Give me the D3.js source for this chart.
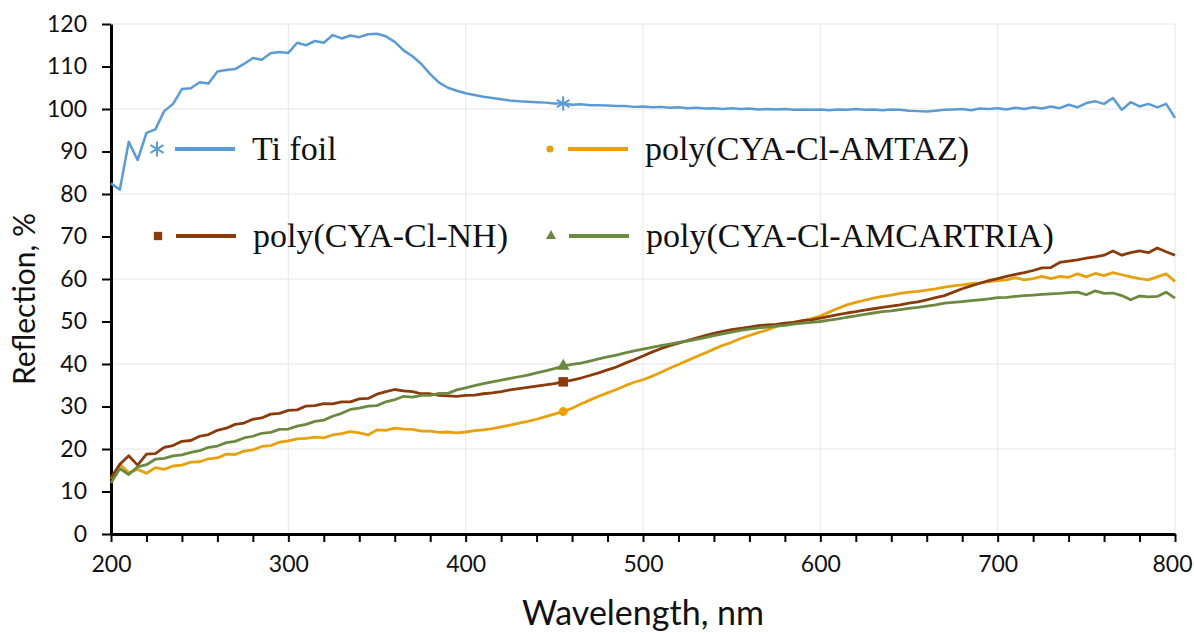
<!DOCTYPE html>
<html>
<head>
  <meta charset="utf-8">
  <script src="https://d3js.org/d3.v7.min.js"></script>
  <title>Reflection spectra</title>
  <style>
    body { margin: 0; background: #fff; }
    .axis text { font-family: Lato, "Open Sans", sans-serif; font-size: 23px; fill: #111; }
    .axis .domain { stroke: #000; stroke-width: 3px; }
    .axis line { stroke: #000; stroke-width: 2px; }
    .grid line { stroke: #e6e6e6; stroke-width: 1px; }
    .title { font-family: Lato, "Open Sans", sans-serif; fill: #111; }
    .legend text { font-family: "Liberation Serif", "Times New Roman", serif; font-size: 34px; fill: #111; }
  </style>
</head>
<body>
<svg width="1194" height="633"></svg>
<script>
// wavelength grid, nm
var wavelength = [200,205,210,215,220,225,230,235,240,245,250,255,260,265,270,275,280,285,290,295,
  300,305,310,315,320,325,330,335,340,345,350,355,360,365,370,375,380,385,390,395,
  400,405,410,415,420,425,430,435,440,445,450,455,460,465,470,475,480,485,490,495,
  500,505,510,515,520,525,530,535,540,545,550,555,560,565,570,575,580,585,590,595,
  600,605,610,615,620,625,630,635,640,645,650,655,660,665,670,675,680,685,690,695,
  700,705,710,715,720,725,730,735,740,745,750,755,760,765,770,775,780,785,790,795,800];

// reflection, %
var tiFoil = [82.5,81.0,92.3,88.0,94.4,95.2,99.5,101.2,104.7,104.9,106.3,106.0,108.8,109.2,109.4,110.6,112.0,111.6,113.1,113.4,
  113.2,115.6,115.0,116.0,115.6,117.4,116.6,117.3,116.9,117.6,117.7,117.1,115.8,113.8,112.4,110.6,108.2,106.2,105.0,104.3,
  103.7,103.3,102.9,102.6,102.3,102.0,101.8,101.7,101.6,101.5,101.3,101.3,101.0,101.1,100.9,100.9,100.8,100.7,100.7,100.5,
  100.6,100.4,100.5,100.3,100.4,100.2,100.3,100.1,100.2,100.0,100.2,100.0,100.1,99.9,100.0,99.9,100.0,99.8,99.9,99.8,
  99.9,99.7,99.9,99.8,100.0,99.8,99.9,99.7,99.9,99.8,99.6,99.5,99.4,99.6,99.8,99.9,100.0,99.7,100.1,100.0,
  100.2,99.9,100.3,100.0,100.4,100.1,100.6,100.2,101.0,100.4,101.4,101.8,101.2,102.6,99.8,101.6,100.6,101.2,100.4,101.2,97.9];

var amtaz = [13.0,16.4,14.4,15.2,14.3,15.6,15.2,16.0,16.2,16.9,17.0,17.7,17.9,18.8,18.7,19.5,19.8,20.6,20.8,21.6,
  21.9,22.4,22.5,22.8,22.6,23.3,23.6,24.1,23.8,23.3,24.5,24.4,24.9,24.7,24.6,24.2,24.2,23.9,24.0,23.8,
  24.0,24.3,24.5,24.8,25.2,25.6,26.1,26.5,27.0,27.6,28.2,28.8,29.6,30.6,31.5,32.4,33.2,34.0,34.9,35.7,
  36.3,37.1,38.0,39.0,39.9,40.8,41.7,42.6,43.5,44.4,45.1,46.0,46.7,47.4,48.0,48.8,49.4,49.8,50.2,50.7,
  51.3,52.2,53.1,53.9,54.5,55.0,55.5,55.9,56.2,56.6,56.9,57.1,57.4,57.7,58.1,58.4,58.6,58.9,59.1,59.4,
  59.6,59.8,60.3,59.8,60.1,60.6,60.1,60.6,60.4,61.2,60.5,61.3,60.8,61.5,61.0,60.5,60.1,59.8,60.5,61.2,59.4];

var nh = [13.2,16.4,18.4,16.2,18.8,18.9,20.4,20.8,21.8,22.0,23.0,23.4,24.4,24.9,25.8,26.1,27.0,27.3,28.2,28.4,
  29.1,29.2,30.1,30.2,30.7,30.6,31.1,31.1,31.8,31.9,32.9,33.5,34.0,33.7,33.5,33.0,33.0,32.6,32.5,32.4,
  32.6,32.7,33.0,33.2,33.5,33.9,34.2,34.5,34.8,35.1,35.4,35.8,36.2,36.7,37.3,37.9,38.6,39.3,40.2,41.0,
  41.9,42.8,43.6,44.3,44.9,45.5,46.1,46.7,47.2,47.7,48.1,48.4,48.7,49.0,49.2,49.3,49.6,49.8,50.2,50.4,
  50.8,51.2,51.6,52.0,52.3,52.7,53.0,53.3,53.6,53.9,54.3,54.6,55.1,55.6,56.1,56.9,57.7,58.4,59.0,59.6,
  60.1,60.6,61.1,61.5,62.0,62.6,62.7,63.9,64.2,64.5,64.9,65.2,65.6,66.6,65.6,66.2,66.6,66.2,67.3,66.4,65.6];

var amcartria = [12.0,15.4,14.0,15.8,16.3,17.6,17.8,18.4,18.6,19.2,19.6,20.4,20.7,21.5,21.8,22.6,23.0,23.7,23.9,24.6,
  24.7,25.4,25.8,26.5,26.8,27.7,28.4,29.3,29.6,30.1,30.2,31.1,31.6,32.4,32.2,32.6,32.6,33.1,33.1,33.9,
  34.4,34.9,35.4,35.8,36.2,36.6,37.0,37.4,37.9,38.4,38.9,39.5,39.9,40.2,40.7,41.2,41.7,42.1,42.6,43.1,
  43.5,43.9,44.3,44.7,45.1,45.4,45.8,46.2,46.7,47.1,47.5,47.9,48.2,48.5,48.7,48.9,49.1,49.4,49.6,49.8,
  50.0,50.3,50.6,51.0,51.3,51.7,52.0,52.3,52.5,52.8,53.1,53.3,53.6,53.9,54.3,54.5,54.7,54.9,55.1,55.3,
  55.6,55.7,55.9,56.1,56.2,56.4,56.5,56.6,56.8,56.9,56.3,57.2,56.6,56.7,56.1,55.1,56.0,55.8,55.9,56.9,55.5];

var seriesNames = ["Ti foil", "poly(CYA-Cl-AMTAZ)", "poly(CYA-Cl-NH)", "poly(CYA-Cl-AMCARTRIA)"];
var xTickLabels = [200, 300, 400, 500, 600, 700, 800];
var yTickLabels = [0, 10, 20, 30, 40, 50, 60, 70, 80, 90, 100, 110, 120];
var markerAt = 455; // wavelength where each series shows its marker

var svg = d3.select("svg"),
    margin = {top: 24, right: 19, bottom: 99, left: 111},
    width = +svg.attr("width") - margin.left - margin.right,
    height = +svg.attr("height") - margin.top - margin.bottom,
    g = svg.append("g").attr("transform", "translate(" + margin.left + "," + margin.top + ")");

var x = d3.scaleLinear().domain([200, 800]).range([0, width]);
var y = d3.scaleLinear().domain([0, 120]).range([height, 0]);

var series = [
  {name: seriesNames[1], values: amtaz, color: "#e8a00c", symbol: d3.symbolCircle, size: 64, legendSize: 40, fill: true},
  {name: seriesNames[2], values: nh, color: "#8a3b0b", symbol: d3.symbolSquare, size: 90, legendSize: 70, fill: true},
  {name: seriesNames[3], values: amcartria, color: "#6c8a3f", symbol: d3.symbolTriangle, size: 70, legendSize: 45, fill: true},
  {name: seriesNames[0], values: tiFoil, color: "#5b9bd5", symbol: d3.symbolAsterisk, size: 150, legendSize: 160, fill: false}
];

// gridlines
g.append("g").attr("class", "grid")
  .selectAll("line")
  .data([20, 40, 60, 80, 100, 120])
  .enter().append("line")
    .attr("x1", 0).attr("x2", width)
    .attr("y1", function(d) { return y(d); })
    .attr("y2", function(d) { return y(d); });

g.append("g").attr("class", "grid")
  .selectAll("line")
  .data(xTickLabels.slice(1))
  .enter().append("line")
    .attr("y1", 0).attr("y2", height)
    .attr("x1", function(d) { return x(d); })
    .attr("x2", function(d) { return x(d); });

// axes
var xAxis = g.append("g")
  .attr("class", "axis")
  .attr("transform", "translate(0," + height + ")")
  .call(d3.axisBottom(x)
    .tickValues(d3.range(200, 801, 20))
    .tickSize(8)
    .tickSizeOuter(0)
    .tickPadding(14)
    .tickFormat(function(d) { return xTickLabels.indexOf(d) >= 0 ? d : ""; }));

// keep the last label inside the page
xAxis.selectAll(".tick text")
  .filter(function(d) { return d === 800; })
  .attr("dx", "-3px");

g.append("g")
  .attr("class", "axis")
  .call(d3.axisLeft(y)
    .tickValues(yTickLabels)
    .tickSize(9)
    .tickSizeOuter(0)
    .tickPadding(15));

// lines
var line = d3.line()
  .x(function(d, i) { return x(wavelength[i]); })
  .y(function(d) { return y(d); });

series.forEach(function(s) {
  g.append("path")
    .datum(s.values)
    .attr("fill", "none")
    .attr("stroke", s.color)
    .attr("stroke-width", s.fill ? 2.8 : 2.5)
    .attr("stroke-linejoin", "round")
    .attr("d", line);
});

// one marker on each curve
var mi = wavelength.indexOf(markerAt);
series.forEach(function(s) {
  g.append("path")
    .attr("d", d3.symbol().type(s.symbol).size(s.size)())
    .attr("transform", "translate(" + x(wavelength[mi]) + "," + y(s.values[mi]) + ")")
    .attr("fill", s.fill ? s.color : "none")
    .attr("stroke", s.color)
    .attr("stroke-width", s.fill ? 0 : 2);
});

// legend
var legendItems = [
  {s: series[3], mx: 157, my: 149},
  {s: series[0], mx: 550, my: 149},
  {s: series[1], mx: 158, my: 236},
  {s: series[2], mx: 551, my: 236}
];

var legend = svg.append("g").attr("class", "legend");
legendItems.forEach(function(d) {
  var s = d.s;
  legend.append("path")
    .attr("d", d3.symbol().type(s.symbol).size(s.legendSize)())
    .attr("transform", "translate(" + d.mx + "," + d.my + ")")
    .attr("fill", s.fill ? s.color : "none")
    .attr("stroke", s.color)
    .attr("stroke-width", s.fill ? 0 : 2);
  legend.append("line")
    .attr("x1", d.mx + 18).attr("x2", d.mx + 78)
    .attr("y1", d.my).attr("y2", d.my)
    .attr("stroke", s.color)
    .attr("stroke-width", 4);
  legend.append("text")
    .attr("x", d.mx + 95)
    .attr("y", d.my + 11)
    .text(s.name);
});

// axis titles
svg.append("text")
  .attr("class", "title")
  .attr("x", margin.left + width / 2)
  .attr("y", 625)
  .style("font-size", "34px")
  .style("text-anchor", "middle")
  .text("Wavelength, nm");

svg.append("text")
  .attr("class", "title")
  .attr("transform", "translate(35,385) rotate(-90)")
  .style("font-size", "30px")
  .style("text-anchor", "start")
  .text("Reflection, %");
</script>
</body>
</html>
